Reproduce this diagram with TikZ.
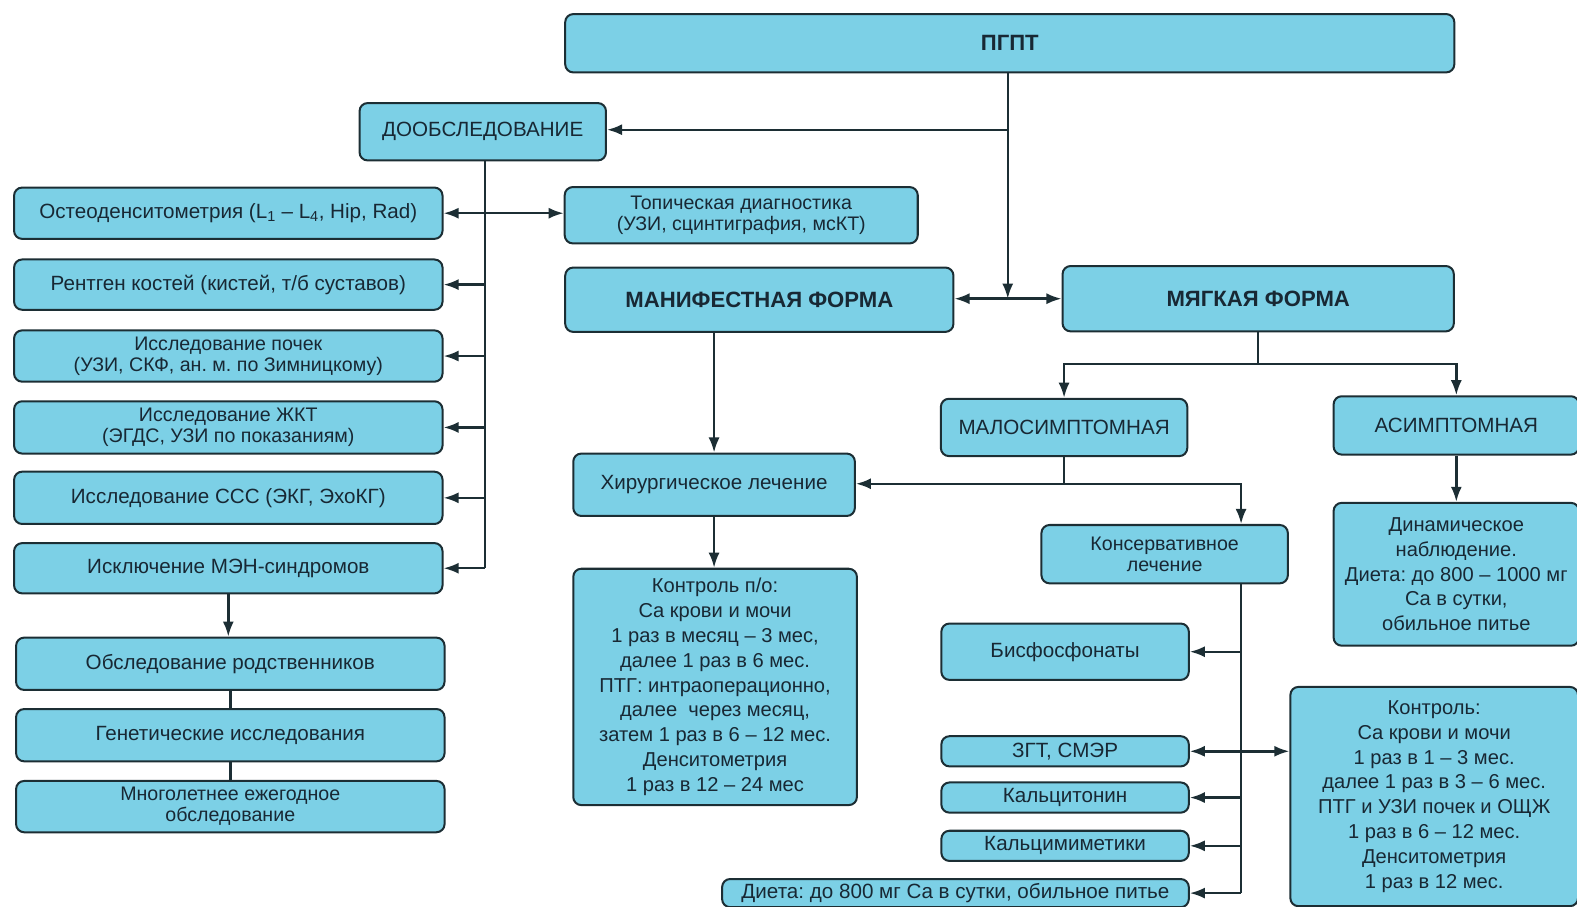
\documentclass[tikz,border=0pt]{standalone}
\usepackage{fontspec}
\setmainfont{Liberation Sans}
\usetikzlibrary{arrows.meta}
\definecolor{boxfill}{RGB}{124,208,230}
\definecolor{edge}{RGB}{28,46,52}
\definecolor{ink}{RGB}{24,40,52}
\frenchspacing
\begin{document}
\begin{tikzpicture}[x=1pt,y=-1pt, color=edge, line width=2.4pt,
    box/.style={draw=edge, line width=2pt, fill=boxfill, rounded corners=8pt,
      text=ink, align=center, inner sep=1pt, font=\fontsize{20.5}{24}\selectfont},
    small/.style={font=\fontsize{19.5}{21}\selectfont},
    ctrl/.style={font=\fontsize{20}{24.7}\selectfont},
    big/.style={font=\fontsize{22}{26}\bfseries\selectfont},
    arr/.style={-{Latex[length=15pt,width=11pt]}},
    both/.style={{Latex[length=15pt,width=11pt]}-{Latex[length=15pt,width=11pt]}}]
  \useasboundingbox (0,0) rectangle (1568,901);
  % top
  \node[box, big, minimum width=884pt, minimum height=58pt] (pgpt) at (1004,43) {ПГПТ};
  \node[box, minimum width=245pt, minimum height=57pt] (dop) at (480,131) {ДООБСЛЕДОВАНИЕ};
  % left column
  \node[box, minimum width=426pt, minimum height=51pt] (osteo) at (227,212)
    {Остеоденситометрия (L\textsubscript{1} – L\textsubscript{4}, Hip, Rad)};
  \node[box, minimum width=426pt, minimum height=50pt] (rtg) at (227,283)
    {Рентген костей (кистей, т/б суставов)};
  \node[box, small, minimum width=426pt, minimum height=51pt] (kid) at (227,354)
    {Исследование почек\\(УЗИ, СКФ, ан. м. по Зимницкому)};
  \node[box, small, minimum width=426pt, minimum height=52pt] (git) at (227,425)
    {Исследование ЖКТ\\(ЭГДС, УЗИ по показаниям)};
  \node[box, minimum width=426pt, minimum height=52pt] (ccc) at (227,495)
    {Исследование ССС (ЭКГ, ЭхоКГ)};
  \node[box, minimum width=426pt, minimum height=50pt] (men) at (227,565)
    {Исключение МЭН-синдромов};
  \node[box, minimum width=426pt, minimum height=52pt] (rel) at (229,660)
    {Обследование родственников};
  \node[box, minimum width=426pt, minimum height=52pt] (gen) at (229,731)
    {Генетические исследования};
  \node[box, small, minimum width=426pt, minimum height=51pt] (long) at (229,802)
    {Многолетнее ежегодное\\обследование};
  % middle
  \node[box, small, minimum width=351pt, minimum height=56pt] (topic) at (737,214)
    {Топическая диагностика\\(УЗИ, сцинтиграфия, мсКТ)};
  \node[box, big, minimum width=386pt, minimum height=64pt] (manif) at (755,298)
    {МАНИФЕСТНАЯ ФОРМА};
  \node[box, big, minimum width=389pt, minimum height=65pt] (soft) at (1251,297)
    {МЯГКАЯ ФОРМА};
  \node[box, minimum width=280pt, minimum height=62pt] (surg) at (710,482)
    {Хирургическое лечение};
  \node[box, ctrl, minimum width=282pt, minimum height=235pt] (ctrl1) at (711,683)
    {Контроль п/о:\\Ca крови и мочи\\1 раз в месяц – 3 мес,\\далее 1 раз в 6 мес.\\ПТГ: интраоперационно,\\далее\ \ через месяц,\\затем 1 раз в 6 – 12 мес.\\Денситометрия\\1 раз в 12 – 24 мес};
  % right
  \node[box, minimum width=245pt, minimum height=57pt] (mild) at (1058,425) {МАЛОСИМПТОМНАЯ};
  \node[box, minimum width=244pt, minimum height=58pt] (asym) at (1448,423) {АСИМПТОМНАЯ};
  \node[box, small, minimum width=245pt, minimum height=58pt] (cons) at (1158,551)
    {Консервативное\\лечение};
  \node[box, ctrl, minimum width=244pt, minimum height=142pt] (dyn) at (1448,571)
    {Динамическое\\наблюдение.\\Диета: до 800 – 1000 мг\\Ca в сутки,\\обильное питье};
  \node[box, minimum width=246pt, minimum height=56pt] (bis) at (1059,648) {Бисфосфонаты};
  \node[box, minimum width=246pt, minimum height=30pt] (hrt) at (1059,747) {ЗГТ, СМЭР};
  \node[box, minimum width=246pt, minimum height=30pt] (calc) at (1059,793) {Кальцитонин};
  \node[box, minimum width=246pt, minimum height=30pt] (mim) at (1059,841) {Кальцимиметики};
  \node[box, minimum width=464pt, minimum height=28pt] (diet) at (950,888)
    {Диета: до 800 мг Ca в сутки, обильное питье};
  \node[box, ctrl, minimum width=286pt, minimum height=218pt] (ctrl2) at (1426,792)
    {Контроль:\\Ca крови и мочи\\1 раз в 1 – 3 мес.\\далее 1 раз в 3 – 6 мес.\\ПТГ и УЗИ почек и ОЩЖ\\1 раз в 6 – 12 мес.\\Денситометрия\\1 раз в 12 мес.};
  % connectors
  \coordinate (j1) at (1002,129);
  \coordinate (j2) at (1002,297);
  \draw (pgpt.south -| j1) -- (j1);
  \draw[arr] (j1) -- (dop.east |- j1);
  \draw[arr] (j1) -- (j2);
  \draw[arr] (j2) -- (manif.east |- j2);
  \draw[arr] (j2) -- (soft.west |- j2);
  \coordinate (bus) at (482,0);
  \draw (bus |- dop.south) -- (bus |- men.east);
  \draw[arr] (bus |- men.east) -- (men.east);
  \foreach \n in {rtg,kid,git,ccc}
    \draw[arr] (bus |- \n.east) -- (\n.east);
  \draw[both] (osteo.east) -- (topic.west |- osteo.east);
  \draw[arr] (men.south) -- (men.south |- rel.north);
  \draw (rel) -- (gen);
  \draw (gen) -- (long);
  \draw[arr] (surg.north |- manif.south) -- (surg.north);
  \draw[arr] (surg.south) -- (surg.south |- ctrl1.north);
  \coordinate (s1) at (1251,362);
  \draw (soft.south) -- (s1);
  \draw[arr] (s1) -| (mild.north);
  \draw[arr] (s1) -| (asym.north);
  \draw[arr] (asym.south) -- (dyn.north);
  \coordinate (m1) at (1058,481);
  \coordinate (cbus) at (1234,0);
  \draw (mild.south) -- (m1);
  \draw[arr] (m1) -- (surg.east |- m1);
  \draw[arr] (m1) -| (cbus |- cons.north);
  \draw (cbus |- cons.south) -- (cbus |- diet.east);
  \foreach \n in {bis,hrt,calc,mim,diet}
    \draw[arr] (cbus |- \n.east) -- (\n.east);
  \draw[arr] (cbus |- hrt.east) -- (ctrl2.west |- hrt.east);
\end{tikzpicture}
\end{document}
